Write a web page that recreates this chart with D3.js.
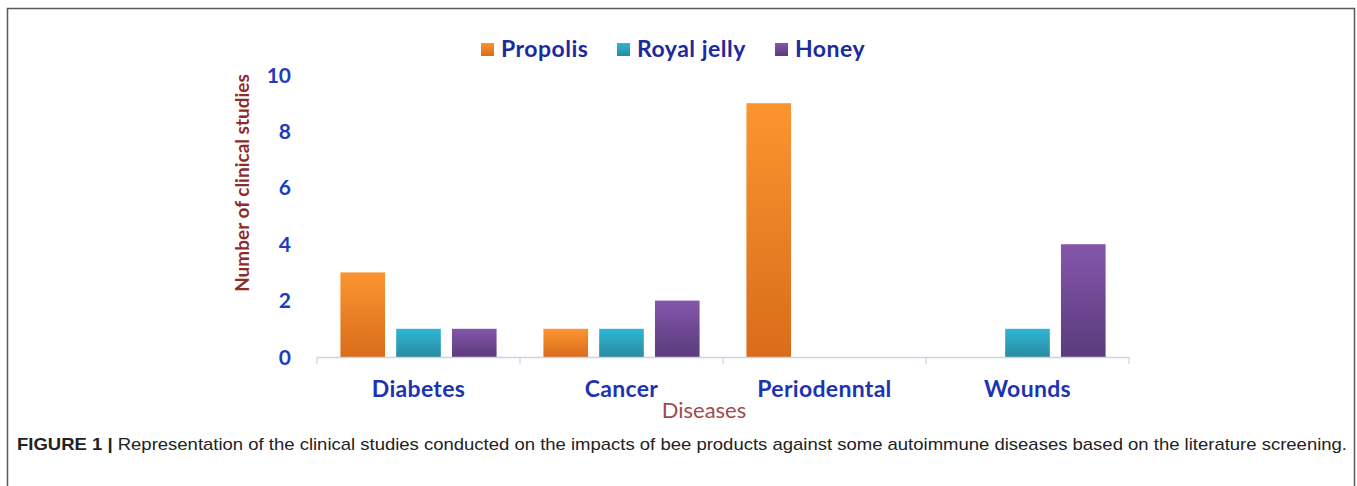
<!DOCTYPE html>
<html>
<head>
<meta charset="utf-8">
<script src="https://cdn.jsdelivr.net/npm/d3@7"></script>
<style>
  body { margin: 0; background: #fff; }
  svg { display: block; }
</style>
</head>
<body>
<svg id="chart" width="1357" height="486"></svg>
<script>
var diseases = ["Diabetes", "Cancer", "Periodenntal", "Wounds"];
var products = ["Propolis", "Royal jelly", "Honey"];
var propolis = [3, 1, 9, 0];
var royal_jelly = [1, 1, 0, 1];
var honey = [1, 2, 0, 4];
var y_ticks = [0, 2, 4, 6, 8, 10];

var series = [propolis, royal_jelly, honey];
var colors_top = ["#fb9530", "#2fb6d6", "#8456ab"];
var colors_bottom = ["#d96c1a", "#2a8aa0", "#5b3b7d"];

var svg = d3.select("#chart");

// frame
svg.append("rect")
    .attr("x", 7.5).attr("y", 8.5)
    .attr("width", 1347).attr("height", 490)
    .attr("fill", "none")
    .attr("stroke", "#5a5a5a")
    .attr("stroke-width", 1.5);

var defs = svg.append("defs");
products.forEach(function (p, i) {
    var g = defs.append("linearGradient")
        .attr("id", "grad" + i)
        .attr("x1", 0).attr("y1", 0).attr("x2", 0).attr("y2", 1);
    g.append("stop").attr("offset", "0%").attr("stop-color", colors_top[i]);
    g.append("stop").attr("offset", "100%").attr("stop-color", colors_bottom[i]);
});

var x0 = d3.scaleBand().domain(diseases).range([317, 1129]).paddingInner(0).paddingOuter(0);
var x1 = d3.scaleBand().domain(products).range([0, x0.bandwidth()]).paddingInner(0.2).paddingOuter(0.42);
var y = d3.scaleLinear().domain([0, 10]).range([357, 75]);

var fontMain = "Lato, 'Open Sans', sans-serif";

// y ticks
svg.append("g").selectAll("text")
    .data(y_ticks)
    .enter().append("text")
        .attr("x", 291)
        .attr("y", function (d) { return y(d); })
        .attr("dy", "0.36em")
        .attr("text-anchor", "end")
        .attr("font-family", fontMain)
        .attr("font-weight", "bold")
        .attr("font-size", "21px")
        .attr("fill", "#1c3cc0")
        .text(function (d) { return d; });

// bars
var groups = svg.append("g").selectAll("g")
    .data(diseases)
    .enter().append("g")
        .attr("transform", function (d) { return "translate(" + x0(d) + ",0)"; });

groups.selectAll("rect")
    .data(function (d, gi) {
        return products.map(function (p, si) { return {p: p, si: si, v: series[si][gi]}; });
    })
    .enter().append("rect")
        .filter(function (d) { return d.v > 0; })
        .attr("x", function (d) { return x1(d.p); })
        .attr("y", function (d) { return y(d.v); })
        .attr("width", x1.bandwidth())
        .attr("height", function (d) { return y(0) - y(d.v); })
        .attr("fill", function (d) { return "url(#grad" + d.si + ")"; });

// x axis line + tick marks
svg.append("line")
    .attr("x1", 317).attr("x2", 1129)
    .attr("y1", 357.5).attr("y2", 357.5)
    .attr("stroke", "#c9d3e6").attr("stroke-width", 1.5);
var bounds = diseases.map(function (d) { return x0(d); }).concat([x0.range()[1]]);
svg.append("g").selectAll("line")
    .data(bounds)
    .enter().append("line")
        .attr("x1", function (d) { return d; }).attr("x2", function (d) { return d; })
        .attr("y1", 357).attr("y2", 364)
        .attr("stroke", "#c9d3e6").attr("stroke-width", 1.2);

// category labels
svg.append("g").selectAll("text")
    .data(diseases)
    .enter().append("text")
        .attr("x", function (d) { return x0(d) + x0.bandwidth() / 2; })
        .attr("y", 397)
        .attr("text-anchor", "middle")
        .attr("font-family", fontMain)
        .attr("font-weight", "bold")
        .attr("font-size", "23px")
        .attr("letter-spacing", "0.3px")
        .attr("fill", "#1c34b4")
        .text(function (d) { return d; });

// axis titles
svg.append("text")
    .attr("x", 704).attr("y", 418)
    .attr("text-anchor", "middle")
    .attr("font-family", fontMain)
    .attr("font-size", "22px")
    .attr("fill", "#9e4a4e")
    .text("Diseases");

svg.append("text")
    .attr("transform", "translate(249,183) rotate(-90)")
    .attr("text-anchor", "middle")
    .attr("font-family", fontMain)
    .attr("font-weight", "bold")
    .attr("font-size", "19px")
    .attr("fill", "#8e2b2b")
    .text("Number of clinical studies");

// legend
var legend_x = [481, 617, 775];
var legend = svg.append("g").selectAll("g")
    .data(products)
    .enter().append("g")
        .attr("transform", function (d, i) { return "translate(" + legend_x[i] + ",43)"; });
legend.append("rect")
    .attr("width", 13).attr("height", 13)
    .attr("fill", function (d, i) { return "url(#grad" + i + ")"; });
legend.append("text")
    .attr("x", 20).attr("y", 14)
    .attr("font-family", fontMain)
    .attr("font-weight", "bold")
    .attr("font-size", "23px")
    .attr("letter-spacing", "0.5px")
    .attr("fill", "#1c2aa0")
    .text(function (d) { return d; });

// caption
var cap = svg.append("text")
    .attr("x", 17).attr("y", 450)
    .attr("font-family", "'Liberation Sans', Arial, sans-serif")
    .attr("font-size", "17px")
    .attr("fill", "#222")
    .attr("textLength", 1330)
    .attr("lengthAdjust", "spacingAndGlyphs");
cap.append("tspan").attr("font-weight", "bold").text("FIGURE 1 |");
cap.append("tspan").text(" Representation of the clinical studies conducted on the impacts of bee products against some autoimmune diseases based on the literature screening.");
</script>
</body>
</html>
